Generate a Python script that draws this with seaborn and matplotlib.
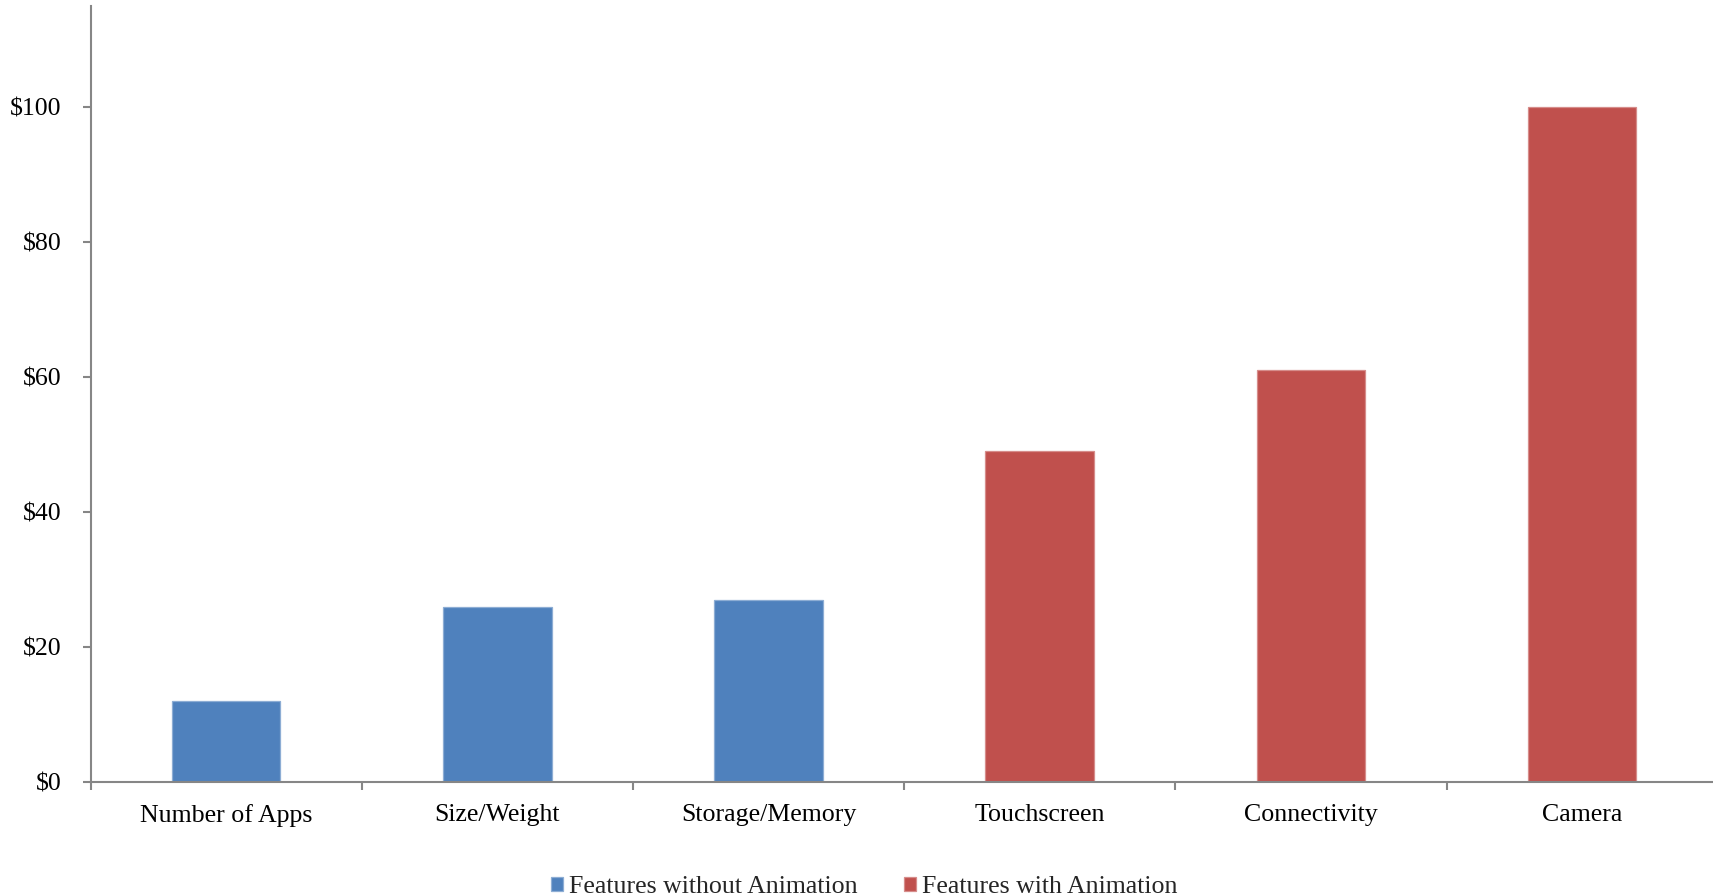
import matplotlib
matplotlib.use("Agg")
import matplotlib.pyplot as plt
import matplotlib.colors as mcolors
import numpy as np
import pandas as pd
import seaborn as sns

# Willingness to pay per smartphone feature
categories = ["Number of Apps", "Size/Weight", "Storage/Memory",
              "Touchscreen", "Connectivity", "Camera"]
values = [12, 26, 27, 49, 61, 100]
groups = ["Features without Animation"] * 3 + ["Features with Animation"] * 3
group_order = ["Features without Animation", "Features with Animation"]
group_colors = ["#4F81BD", "#C0504D"]
y_ticks = [0, 20, 40, 60, 80, 100]

sns.set_theme(style="white")
plt.rcParams["font.family"] = ["Liberation Serif", "DejaVu Serif"]
plt.rcParams["font.size"] = 18.6

df = pd.DataFrame({"feature": categories, "value": values, "group": groups})

fig = plt.figure(figsize=(17.13, 8.96), dpi=100)
ax = fig.add_axes([90.5 / 1713, 1 - 782 / 896, 1 - 90.5 / 1713, (782 - 6) / 896])

sns.barplot(data=df, x="feature", y="value", hue="group", order=categories,
            hue_order=group_order, palette=group_colors, dodge=False,
            width=0.4, saturation=1, ax=ax, linewidth=0.9)

# lighter outline around each bar
for patch in ax.patches:
    fc = np.array(mcolors.to_rgb(patch.get_facecolor()))
    patch.set_edgecolor(tuple(fc + (1 - fc) * 0.35))

ax.set_ylim(0, 115)
ax.set_xlim(-0.5, 5.5 - 4.7 / 271.2)
ax.set_yticks(y_ticks)
ax.set_yticklabels([f"${v}" for v in y_ticks])
ax.set_xlabel("")
ax.set_ylabel("")

axis_gray = "#868686"
for side in ["top", "right"]:
    ax.spines[side].set_visible(False)
for side in ["left", "bottom"]:
    ax.spines[side].set_color(axis_gray)
    ax.spines[side].set_linewidth(1.5)

# category labels centred, tick marks on category boundaries
ax.set_xticks(np.arange(len(categories)))
ax.set_xticklabels(categories)
ax.set_xticks(np.arange(len(categories)) - 0.5, minor=True)
ax.tick_params(axis="x", which="major", length=0, pad=15.5, labelsize=18.6,
               colors="black")
ax.tick_params(axis="x", which="minor", length=6, width=1.5, color=axis_gray,
               direction="out", bottom=True)
ax.tick_params(axis="y", which="major", length=6, width=1.5, color=axis_gray,
               direction="out", left=True, pad=15, labelsize=18.6,
               labelcolor="black")

handles, labels = ax.get_legend_handles_labels()
ax.get_legend().remove()
fig.legend(handles, labels, loc="center", bbox_to_anchor=(864.5 / 1713, 1 - 887 / 896),
           ncol=2, frameon=False, fontsize=18.6, handlelength=0.45,
           handleheight=0.45, handletextpad=0.25, columnspacing=1.8,
           borderpad=0, borderaxespad=0)

fig.savefig("out.png", dpi=100, facecolor="white")
